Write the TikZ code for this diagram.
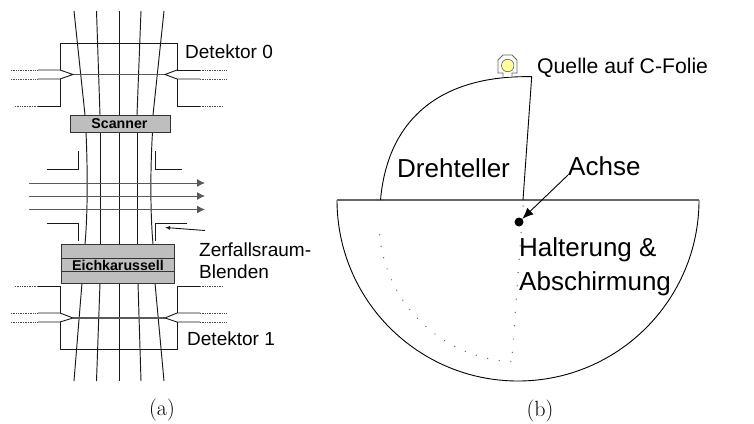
\documentclass[tikz,border=0pt]{standalone}
\usepackage{fontspec}
\setsansfont{Liberation Sans}
\usetikzlibrary{arrows.meta}
\definecolor{plategray}{RGB}{190,190,190}
\definecolor{srcyellow}{RGB}{255,255,153}
\tikzset{
  wire/.style={black!90, line width=0.9pt},
  fade/.style={black!70, line width=0.7pt, densely dotted},
  foil/.style={black!65, line width=1.8pt},
  beam/.style={black!90, line width=0.95pt},
  decay/.style={black!65, line width=1pt, -{Latex[length=8pt,width=8pt]}},
  plate/.style={draw=black!80, fill=plategray, line width=1pt},
  lab/.style={font=\fontsize{19}{22}\selectfont\sffamily, inner sep=0pt},
  biglab/.style={font=\fontsize{26}{30}\selectfont\sffamily, inner sep=0pt},
  boxlab/.style={font=\fontsize{14.2}{16}\selectfont\sffamily\bfseries, inner sep=0pt},
  sublab/.style={font=\fontsize{22}{26}\selectfont, inner sep=0pt}
}
\begin{document}
\begin{tikzpicture}[x=1pt,y=-1pt]
\useasboundingbox (0,0) rectangle (754,423);

% beam lines
\draw[beam] (74,11) -- (85,115);
\draw[beam] (96.5,11) -- (100,115);
\draw[beam] (119,11) -- (119,115);
\draw[beam] (141,11) -- (137,115);
\draw[beam] (164,11) -- (153,115);
\draw[beam] (86,132) .. controls (87.5,165) and (88,210) .. (85,244);
\draw[beam] (100.5,132) -- (100.5,244);
\draw[beam] (119,132) -- (119,244);
\draw[beam] (137,132) -- (137,244);
\draw[beam] (152.5,132) .. controls (150.5,165) and (150,210) .. (153,244);
\draw[beam] (82,283) -- (74,381);
\draw[beam] (100,283) -- (96.5,381);
\draw[beam] (119,283) -- (119,381);
\draw[beam] (138,283) -- (141,381);
\draw[beam] (155,283) -- (164,381);

% Detektor 0
\draw[wire] (60,70) -- (60,43) -- (177,43) -- (177,70);
\draw[foil] (73,74.5) -- (165,74.5);
\draw[wire] (38,70) -- (60,70) -- (73,74.5) -- (60,79) -- (38,79);
\draw[wire] (177,70) -- (200,70);
\draw[wire] (200,79) -- (177,79) -- (165,74.5) -- (177,70);
\draw[wire] (38,106) -- (60,106) -- (60,79);
\draw[wire] (200,106) -- (177,106) -- (177,79);
\foreach \y in {70,79} {
  \draw[fade] (11,\y) -- (38,\y);
  \draw[fade] (200,\y) -- (227,\y);
}
\draw[fade] (15,106) -- (38,106);
\draw[fade] (200,106) -- (223,106);
\node[lab, anchor=west] (det0) at (185,52) {Detektor 0};

% Scanner
\node[plate, minimum width=100pt, minimum height=17pt, inner sep=0pt] (scanner) at (120,123.5) {};
\node[boxlab] (scannerlab) at (119.5,124) {Scanner};

% Blenden
\draw[wire] (78.5,151) -- (78.5,169) -- (47,169);
\draw[wire] (155,151) -- (155,169) -- (182,169);
\draw[wire] (47,223.5) -- (78.5,223.5) -- (78.5,241);
\draw[wire] (187,223.5) -- (155,223.5) -- (155,241);

% decay arrows
\foreach \y in {183,196,209.5}
  \draw[decay] (29,\y) -- (205,\y);

% Eichkarussell
\node[plate, minimum width=113pt, minimum height=39pt, inner sep=0pt] (karussell) at (117.5,263.5) {};
\draw[plate, fill=none] (karussell.west |- 0,258) -- (karussell.east |- 0,258);
\draw[plate, fill=none] (karussell.west |- 0,271.5) -- (karussell.east |- 0,271.5);
\node[boxlab] (karuselllab) at (118,265) {Eichkarussell};

% Detektor 1
\draw[wire] (60,313) -- (60,286) -- (38,286);
\draw[wire] (177,313) -- (177,286) -- (200,286);
\draw[foil] (73,318) -- (165,318);
\draw[wire] (38,313) -- (60,313) -- (73,318) -- (60,322) -- (38,322);
\draw[wire] (200,313) -- (177,313) -- (165,318) -- (177,322) -- (200,322);
\draw[wire] (60,322) -- (60,349) -- (177,349) -- (177,322);
\foreach \y in {313,322} {
  \draw[fade] (11,\y) -- (38,\y);
  \draw[fade] (200,\y) -- (227,\y);
}
\draw[fade] (15,286) -- (38,286);
\draw[fade] (200,286) -- (223,286);
\node[lab, anchor=west] (det1) at (187,339) {Detektor 1};

% Blenden label
\node[lab, anchor=west] (zerfall) at (199,250) {Zerfallsraum-};
\node[lab, anchor=west] (blenden) at (199,272) {Blenden};
\coordinate (pointA) at (205,230.5);
\coordinate (pointB) at (165,227.5);
\draw[wire, -{Latex[length=5pt,width=4pt]}] (pointA) -- (pointB);

\node[sublab] (capa) at (162,410) {(a)};

% Halterung
\draw[black, line width=0.9pt] (699,200) arc[start angle=0, end angle=180, radius=181];
\draw[black!60, line width=1.2pt] (337,200) -- (699,200);

% Drehteller
\draw[black, line width=0.9pt] (380.5,200) .. controls (388,115) and (445,75) .. (531.7,76.7) -- (523,200);
\foreach \i in {0,...,17}
  \fill[black!60] ({519+140*cos(174.8-4.79*\i)},{222+140*sin(174.8-4.79*\i)}) circle (0.7);
\foreach \i in {0,...,11}
  \fill[black!60] ({512.3+0.0735*13.3*\i},{352.3-13.3*\i}) circle (0.7);

% Quelle
\draw[black!60, fill=white, line width=0.8pt] (503,76.5) -- (503,73) -- (498,73) -- (498,60) -- (503,55) -- (512,55)
  -- (517,60) -- (517,73) -- (512,73) -- (512,76.5);
\node[circle, draw=black!70, fill=srcyellow, minimum size=12.5pt, inner sep=0pt, line width=0.5pt] (quelle) at (507.7,65.5) {};
\node[anchor=west, inner sep=0pt, font=\fontsize{21.2}{24}\selectfont\sffamily] (quellelab) at (537,68) {Quelle auf C-Folie};

% Achse
\node[circle, fill=black, minimum size=9pt, inner sep=0pt] (achse) at (519,222) {};
\node[biglab, anchor=west] (achselab) at (568,166) {Achse};
\coordinate (achseend) at (568,175);
\draw[black, line width=0.9pt, -{Latex[length=11pt,width=9pt]}] (achseend) -- (achse);

\node[biglab, anchor=west] (dreh) at (397,168) {Drehteller};
\node[biglab, anchor=west] (halt) at (519,250) {Halterung \&};
\node[biglab, anchor=west] (absch) at (519,284) {Abschirmung};

\node[sublab] (capb) at (540,411) {(b)};
\end{tikzpicture}
\end{document}
